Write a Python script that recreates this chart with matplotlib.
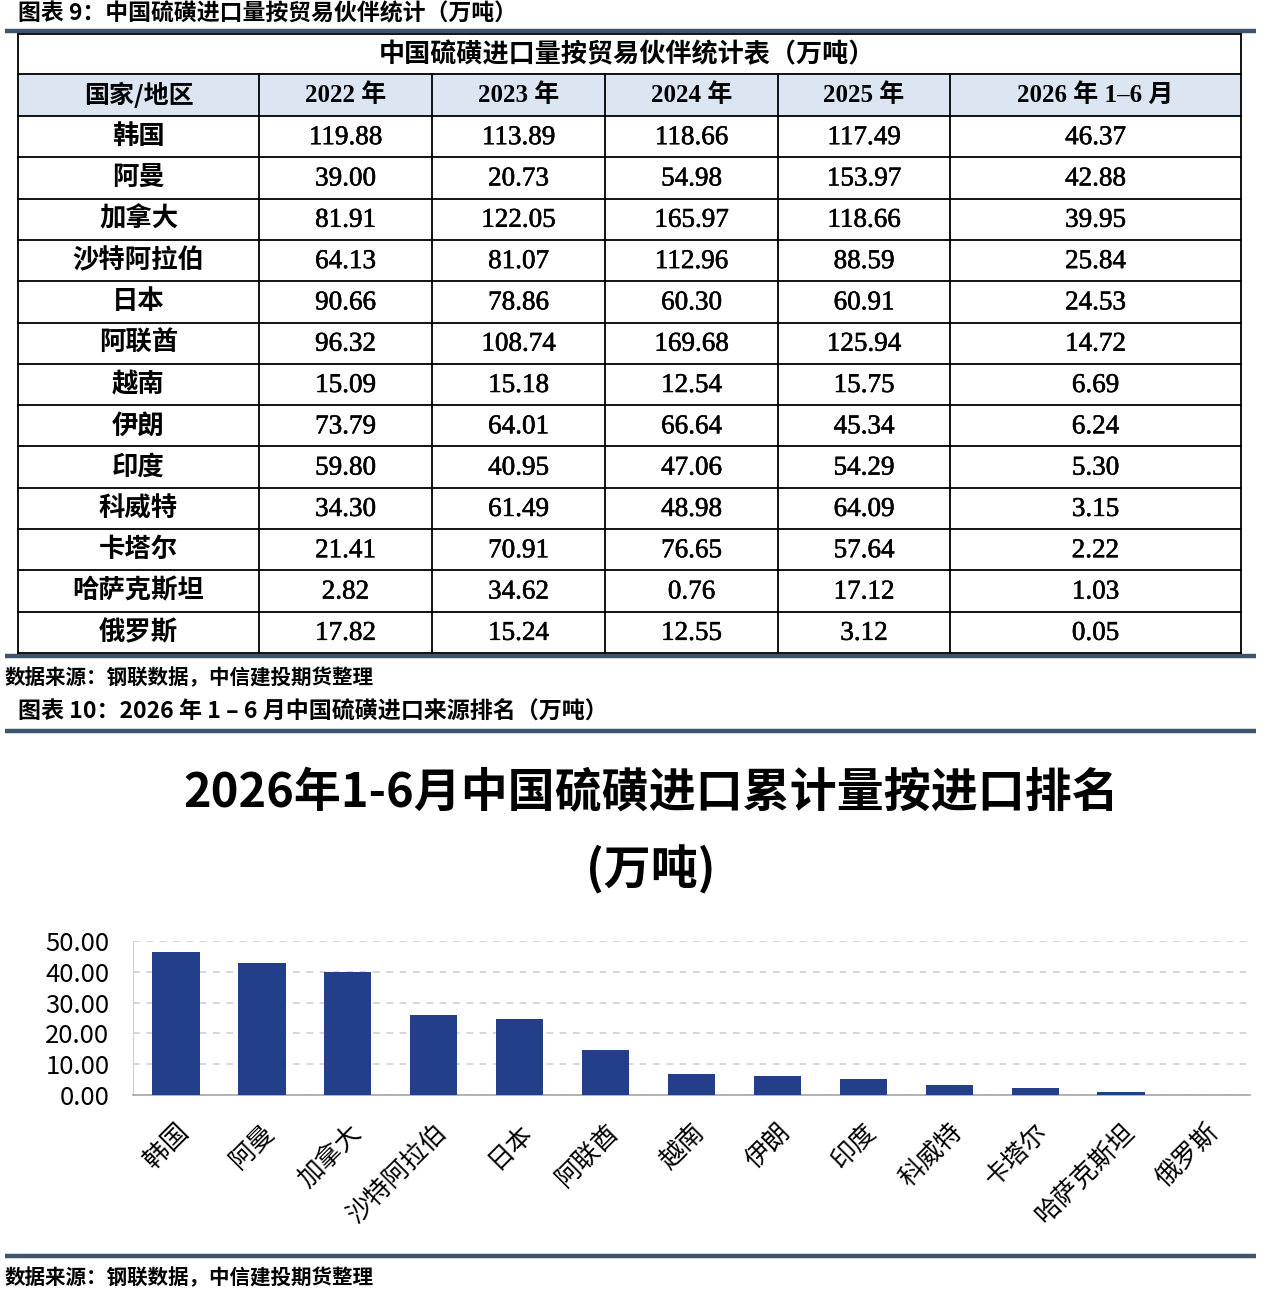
import matplotlib
matplotlib.use("Agg")
import matplotlib.pyplot as plt
import matplotlib.patheffects as pe
from matplotlib.patches import Rectangle
from matplotlib.transforms import ScaledTranslation
from matplotlib.ticker import FormatStrFormatter

plt.rcParams['font.family'] = ['Noto Sans CJK SC', 'DejaVu Sans']

# ---- data ----
countries = ["韩国", "阿曼", "加拿大", "沙特阿拉伯", "日本", "阿联酋", "越南",
             "伊朗", "印度", "科威特", "卡塔尔", "哈萨克斯坦", "俄罗斯"]
v2022 = [119.88, 39.00, 81.91, 64.13, 90.66, 96.32, 15.09, 73.79, 59.80, 34.30, 21.41, 2.82, 17.82]
v2023 = [113.89, 20.73, 122.05, 81.07, 78.86, 108.74, 15.18, 64.01, 40.95, 61.49, 70.91, 34.62, 15.24]
v2024 = [118.66, 54.98, 165.97, 112.96, 60.30, 169.68, 12.54, 66.64, 47.06, 48.98, 76.65, 0.76, 12.55]
v2025 = [117.49, 153.97, 118.66, 88.59, 60.91, 125.94, 15.75, 45.34, 54.29, 64.09, 57.64, 17.12, 3.12]
v2026h1 = [46.37, 42.88, 39.95, 25.84, 24.53, 14.72, 6.69, 6.24, 5.30, 3.15, 2.22, 1.03, 0.05]
col_heads = ["国家/地区", "2022 年", "2023 年", "2024 年", "2025 年", "2026 年 1–6 月"]
yticks = [0, 10, 20, 30, 40, 50]

fig_title9 = "图表 9：中国硫磺进口量按贸易伙伴统计（万吨）"
table_title = "中国硫磺进口量按贸易伙伴统计表（万吨）"
fig_title10 = "图表 10：2026 年 1 – 6 月中国硫磺进口来源排名（万吨）"
chart_title = "2026年1-6月中国硫磺进口累计量按进口排名"
chart_unit = "(万吨)"
source = "数据来源：钢联数据，中信建投期货整理"

W, H = 1280, 1302
BAR = '#243F8A'
RULE = '#3D536E'
HEAD_FILL = '#DCE6F2'
SERIF = ['Liberation Serif', 'Noto Sans CJK SC']
heavy = [pe.withStroke(linewidth=0.4, foreground='black')]

fig = plt.figure(figsize=(W / 100, H / 100), dpi=100)
fig.patch.set_facecolor('white')

# overlay in pixel coordinates (y down)
ax0 = fig.add_axes([0, 0, 1, 1])
ax0.set_xlim(0, W)
ax0.set_ylim(H, 0)
ax0.axis('off')

# section headers, rules, sources
ax0.text(18, 14, fig_title9, fontsize=16.5, fontweight='bold', va='center', ha='left')
for yy in (31, 656, 731, 1256):
    ax0.plot([5, 1256], [yy, yy], color=RULE, lw=3.2, solid_capstyle='butt')
ax0.text(5, 678, source, fontsize=14.8, fontweight='bold', fontstyle='italic', va='center', ha='left')
ax0.text(18, 712, fig_title10, fontsize=16.6, fontweight='bold', va='center', ha='left')
ax0.text(5, 1278, source, fontsize=14.8, fontweight='bold', fontstyle='italic', va='center', ha='left')

# ---- table ----
col_x = [18, 259, 432, 605, 778, 950, 1241]
top, title_b, head_b, bottom = 34, 74, 116, 653
n = len(countries)
row_h = (bottom - head_b) / n
row_y = [head_b + i * row_h for i in range(n + 1)]

ax0.add_patch(Rectangle((col_x[0], title_b), col_x[-1] - col_x[0], head_b - title_b,
                        fc=HEAD_FILL, ec='none'))
for yy in [top, title_b] + row_y:
    ax0.plot([col_x[0], col_x[-1]], [yy, yy], color='black', lw=1.3)
for i, xx in enumerate(col_x):
    y0 = top if i in (0, len(col_x) - 1) else title_b
    ax0.plot([xx, xx], [y0, bottom], color='black', lw=1.3)

ax0.text((col_x[0] + col_x[-1]) / 2 - 3, (top + title_b) / 2, table_title,
         fontsize=18.8, fontweight='bold', ha='center', va='center', family=SERIF)
for j, h in enumerate(col_heads):
    ax0.text((col_x[j] + col_x[j + 1]) / 2, (title_b + head_b) / 2, h,
             fontsize=18, fontweight='bold', ha='center', va='center',
             family=SERIF if j else ['Noto Sans CJK SC'])

cols = [v2022, v2023, v2024, v2025, v2026h1]
for i, c in enumerate(countries):
    cy = (row_y[i] + row_y[i + 1]) / 2
    ax0.text((col_x[0] + col_x[1]) / 2, cy, c, fontsize=19, fontweight='bold',
             ha='center', va='center')
    for j, vals in enumerate(cols):
        ax0.text((col_x[j + 1] + col_x[j + 2]) / 2, cy + 1, f"{vals[i]:.2f}",
                 fontsize=19.5, ha='center', va='center', family='Liberation Serif',
                 path_effects=heavy)

# ---- bar chart ----
fig.text(651 / W, 1 - 793 / H, chart_title, fontsize=33.8, fontweight='bold', ha='center', va='center')
fig.text(651 / W, 1 - 870 / H, chart_unit, fontsize=33.8, fontweight='bold', ha='center', va='center')

ax = fig.add_axes([133 / W, 1 - 1095 / H, (1250 - 133) / W, (1095 - 941) / H])
ax.set_facecolor('none')
x = list(range(n))
ax.bar(x, v2026h1, width=0.55, color=BAR, zorder=3)
ax.set_xlim(-0.5, n - 0.5)
ax.set_ylim(0, 50)
ax.set_yticks(yticks)
ax.yaxis.set_major_formatter(FormatStrFormatter('%.2f'))
ax.grid(axis='y', ls=(0, (4, 4)), color='#D0D0D0', lw=1.2, zorder=0)
ax.set_axisbelow(True)
for s in ('top', 'right'):
    ax.spines[s].set_visible(False)
ax.spines['left'].set_color('#D0D0D0')
ax.spines['bottom'].set_color('#A6A6A6')
ax.spines['bottom'].set_linewidth(1.2)
ax.tick_params(axis='y', length=0, pad=17, labelsize=18.5)
ax.tick_params(axis='x', length=0, pad=24)
ax.set_xticks(x)
ax.set_xticklabels(countries, fontsize=18.5, rotation=45, ha='right', va='center',
                   rotation_mode='anchor')
shift = ScaledTranslation(9 / 100, 0, fig.dpi_scale_trans)
for lbl in ax.get_xticklabels():
    lbl.set_transform(lbl.get_transform() + shift)

fig.savefig('out.png', dpi=100, facecolor='white')
